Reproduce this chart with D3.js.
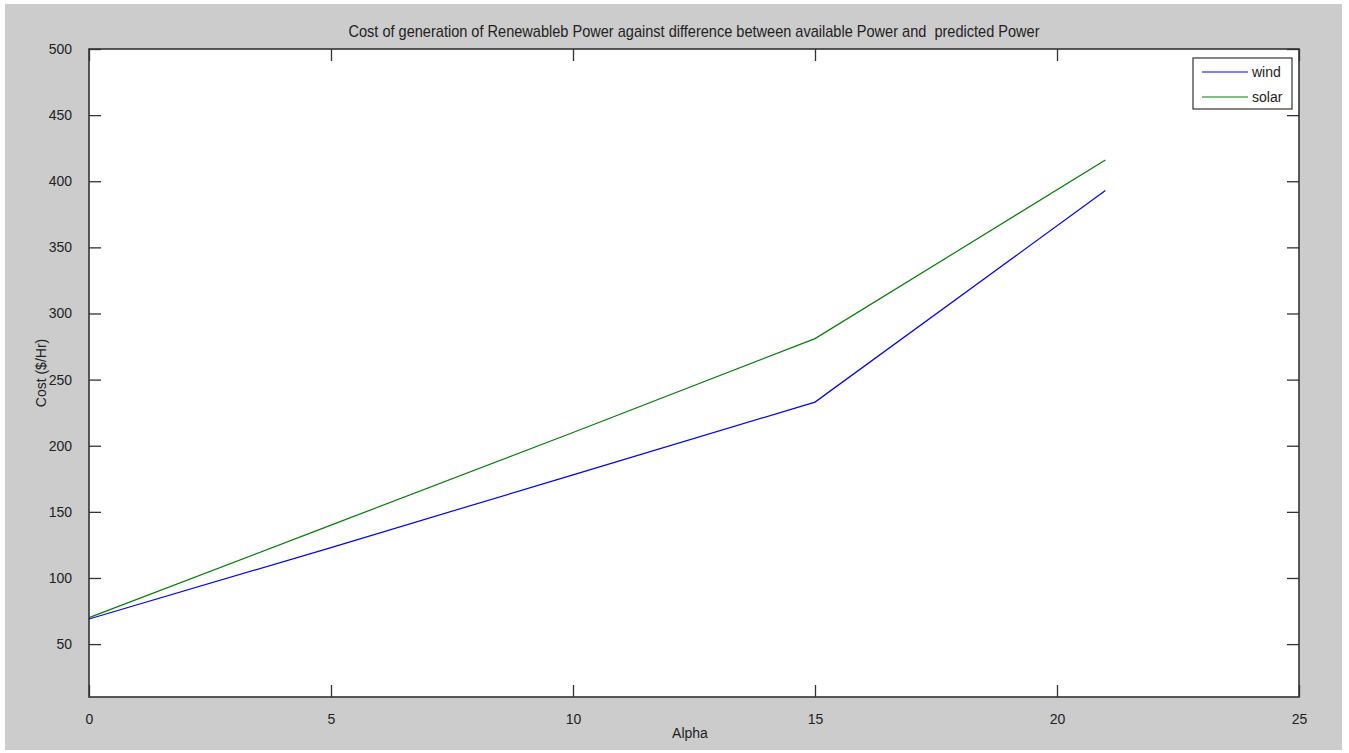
<!DOCTYPE html>
<html lang="en">
<head>
<meta charset="UTF-8">
<title>Cost vs Alpha</title>
<script src="https://d3js.org/d3.v7.min.js"></script>
<style>
  body { margin: 0; background: #fff; }
  text { font-family: "Liberation Sans", Arial, sans-serif; fill: #222; }
</style>
</head>
<body>
<div id="chart"></div>
<script>
// data
var alpha = [0, 5, 10, 15, 21]
var wind = [69, 123, 178, 233, 393]
var solar = [70, 140, 210, 281, 416]
var xTicks = [0, 5, 10, 15, 20, 25]
var yTicks = [50, 100, 150, 200, 250, 300, 350, 400, 450, 500]

var W = 1349, H = 753
var mLeft = 89, mRight = 1299, mTop = 49, mBottom = 697

var svg = d3.select("#chart").append("svg")
    .attr("width", W).attr("height", H)

// grey figure background with the thin white border
svg.append("rect").attr("x", 5).attr("y", 4).attr("width", 1337).attr("height", 746)
    .attr("fill", "#cccccc")

var x = d3.scaleLinear().domain([0, 25]).range([mLeft, mRight])
var y = d3.scaleLinear().domain([10, 500]).range([mBottom, mTop])

svg.append("rect").attr("x", mLeft).attr("y", mTop)
    .attr("width", mRight - mLeft).attr("height", mBottom - mTop).attr("fill", "#fff")

var tl = 12
function styleAxis(g) {
    g.select(".domain").remove()
    g.selectAll("line").attr("stroke", "#333").attr("stroke-width", 1.3)
    g.selectAll("text").style("font-size", "14px").attr("fill", "#222")
}

// bottom & left with labels, top & right ticks only (inward)
svg.append("g").attr("transform", "translate(0," + mBottom + ")")
    .call(d3.axisBottom(x).tickValues(xTicks).tickSize(-tl).tickPadding(17))
    .call(styleAxis)
svg.append("g").attr("transform", "translate(0," + mTop + ")")
    .call(d3.axisTop(x).tickValues(xTicks).tickSize(-tl).tickFormat(""))
    .call(styleAxis)
svg.append("g").attr("transform", "translate(" + mLeft + ",0)")
    .call(d3.axisLeft(y).tickValues(yTicks).tickSize(-tl).tickPadding(17))
    .call(styleAxis)
svg.append("g").attr("transform", "translate(" + mRight + ",0)")
    .call(d3.axisRight(y).tickValues(yTicks).tickSize(-tl).tickFormat(""))
    .call(styleAxis)

svg.append("rect").attr("x", mLeft).attr("y", mTop)
    .attr("width", mRight - mLeft).attr("height", mBottom - mTop)
    .attr("fill", "none").attr("stroke", "#333").attr("stroke-width", 1.6)

var line = d3.line().x(function(d) { return x(d[0]) }).y(function(d) { return y(d[1]) })

var series = [
    {name: "wind", color: "#0000ff", values: d3.zip(alpha, wind)},
    {name: "solar", color: "#008000", values: d3.zip(alpha, solar)}
]

series.forEach(function(s) {
    svg.append("path").datum(s.values)
        .attr("d", line).attr("fill", "none")
        .attr("stroke", s.color).attr("stroke-width", 1.2)
})

// legend
var lg = svg.append("g").attr("transform", "translate(1193,58)")
lg.append("rect").attr("width", 99).attr("height", 51)
    .attr("fill", "#fff").attr("stroke", "#333").attr("stroke-width", 1.2)
series.forEach(function(s, i) {
    var yy = 14 + i * 25
    lg.append("line").attr("x1", 9).attr("x2", 55).attr("y1", yy).attr("y2", yy)
        .attr("stroke", s.color).attr("stroke-width", 1.2)
    lg.append("text").attr("x", 59).attr("y", yy + 5)
        .style("font-size", "14px").text(s.name)
})

// titles
var cx = (mLeft + mRight) / 2
svg.append("text").attr("x", 0).attr("y", 0)
    .attr("text-anchor", "middle").style("font-size", "16px")
    .attr("transform", "translate(" + cx + ",37) scale(0.91,1)")
    .style("white-space", "pre")
    .text("Cost of generation of Renewableb Power against difference between available Power and  predicted Power")

svg.append("text").attr("x", 690).attr("y", 738)
    .attr("text-anchor", "middle").style("font-size", "14px").text("Alpha")

svg.append("text").attr("transform", "translate(46,373) rotate(-90)")
    .attr("text-anchor", "middle").style("font-size", "14px").text("Cost ($/Hr)")
</script>
</body>
</html>
